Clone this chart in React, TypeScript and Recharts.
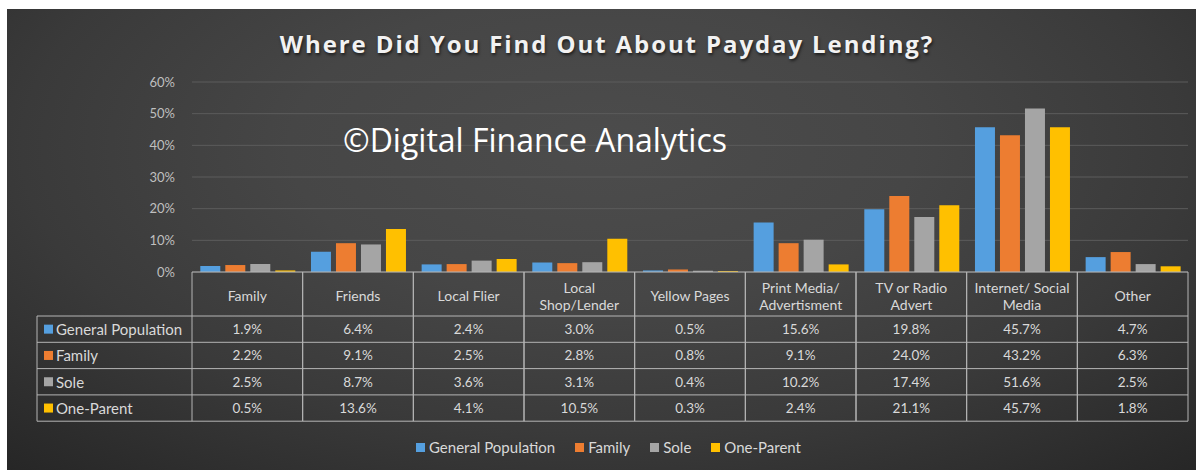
import { BarChart, Bar, XAxis, YAxis, CartesianGrid, Legend } from 'recharts';

const categories = [
  'Family',
  'Friends',
  'Local Flier',
  'Local\nShop/Lender',
  'Yellow Pages',
  'Print Media/\nAdvertisment',
  'TV or Radio\nAdvert',
  'Internet/ Social\nMedia',
  'Other',
];

const generalPopulation = [1.9, 6.4, 2.4, 3.0, 0.5, 15.6, 19.8, 45.7, 4.7];
const family = [2.2, 9.1, 2.5, 2.8, 0.8, 9.1, 24.0, 43.2, 6.3];
const sole = [2.5, 8.7, 3.6, 3.1, 0.4, 10.2, 17.4, 51.6, 2.5];
const oneParent = [0.5, 13.6, 4.1, 10.5, 0.3, 2.4, 21.1, 45.7, 1.8];

const seriesKeys = ['gp', 'family', 'sole', 'oneParent'];
const seriesNames = ['General Population', 'Family', 'Sole', 'One-Parent'];
const seriesValues = [generalPopulation, family, sole, oneParent];
const seriesColors = ['#559fdf', '#ed7d31', '#a5a5a5', '#ffc000'];

const yTicks = [0, 10, 20, 30, 40, 50, 60];

const data = categories.map((category, i) => {
  const row: Record<string, string | number> = { category };
  seriesKeys.forEach((k, s) => {
    row[k] = seriesValues[s][i];
  });
  return row;
});

const FONT = 'Lato, "Open Sans", sans-serif';
const TEXT = '#d9d9d9';
const LINE = '#b5b5b5';

const PLOT_LEFT = 185;
const PLOT_W = 996;
const BAND = PLOT_W / categories.length;
const HEADER_H = 44;
const ROW_H = 26.3;
const LABEL_LEFT = 30;

// each x tick draws one column of the data table (header + values)
function TableColumn(props: any) {
  const { x, y, payload, index } = props;
  const left = x - BAND / 2;
  const right = x + BAND / 2;
  const bottom = y + HEADER_H + ROW_H * seriesNames.length;
  const lines = String(payload.value).split('\n');
  const ci = categories.indexOf(payload.value);

  return (
    <g>
      <line x1={left} x2={left} y1={y} y2={bottom} stroke={LINE} />
      <line x1={right} x2={right} y1={y} y2={bottom} stroke={LINE} />
      {lines.map((ln, i) => (
        <text
          key={i}
          x={x}
          y={y + (lines.length === 1 ? 23 : 15 + i * 17)}
          textAnchor="middle"
          dominantBaseline="central"
          fill={TEXT}
          fontSize={14}
          fontFamily={FONT}
        >
          {ln}
        </text>
      ))}
      {seriesNames.map((_, s) => {
        const top = y + HEADER_H + ROW_H * s;
        return (
          <g key={s}>
            <line x1={left} x2={right} y1={top} y2={top} stroke={LINE} />
            <text
              x={x}
              y={top + ROW_H / 2}
              textAnchor="middle"
              dominantBaseline="central"
              fill={TEXT}
              fontSize={13.5}
              fontFamily={FONT}
            >
              {seriesValues[s][ci].toFixed(1)}%
            </text>
          </g>
        );
      })}
      <line x1={left} x2={right} y1={bottom} y2={bottom} stroke={LINE} />
      {index === 0 && (
        <g>
          <line x1={LABEL_LEFT} x2={LABEL_LEFT} y1={y + HEADER_H} y2={bottom} stroke={LINE} />
          {seriesNames.map((name, s) => {
            const top = y + HEADER_H + ROW_H * s;
            return (
              <g key={name}>
                <line x1={LABEL_LEFT} x2={left} y1={top} y2={top} stroke={LINE} />
                <rect x={LABEL_LEFT + 7} y={top + ROW_H / 2 - 4.5} width={9} height={9} fill={seriesColors[s]} />
                <text
                  x={LABEL_LEFT + 19}
                  y={top + ROW_H / 2}
                  dominantBaseline="central"
                  fill={TEXT}
                  fontSize={15}
                  fontFamily={FONT}
                >
                  {name}
                </text>
              </g>
            );
          })}
          <line x1={LABEL_LEFT} x2={left} y1={bottom} y2={bottom} stroke={LINE} />
        </g>
      )}
    </g>
  );
}

function LegendRow() {
  return (
    <div
      style={{
        height: 20,
        display: 'flex',
        justifyContent: 'center',
        alignItems: 'center',
        paddingLeft: 42,
        fontFamily: FONT,
        fontSize: 15,
        color: TEXT,
      }}
    >
      {seriesNames.map((name, s) => (
        <span key={name} style={{ display: 'flex', alignItems: 'center', marginRight: 20 }}>
          <span style={{ width: 9, height: 9, background: seriesColors[s], marginRight: 4 }} />
          {name}
        </span>
      ))}
    </div>
  );
}

export default function App() {
  return (
    <div style={{ position: 'absolute', left: 0, top: 0, width: 1196, height: 470, background: '#fff' }}>
      <div
        style={{
          position: 'absolute',
          left: 7,
          top: 9,
          width: 1189,
          height: 461,
          overflow: 'hidden',
          background:
            'radial-gradient(ellipse 75% 95% at 50% 30%, #4c4c4c 0%, #464646 35%, #3a3a3a 65%, #262626 100%)',
        }}
      >
        <div
          style={{
            position: 'absolute',
            top: 20,
            left: 0,
            width: '100%',
            paddingLeft: 11,
            boxSizing: 'border-box',
            textAlign: 'center',
            lineHeight: '30px',
            fontFamily: '"Open Sans", sans-serif',
            fontWeight: 700,
            fontSize: 24,
            letterSpacing: 1.9,
            color: '#f2f2f2',
            textShadow: '1px 2px 3px rgba(0,0,0,0.6)',
          }}
        >
          Where Did You Find Out About Payday Lending?
        </div>
        <div
          style={{
            position: 'absolute',
            top: 113,
            left: 336,
            lineHeight: '36px',
            fontFamily: '"Open Sans", sans-serif',
            fontSize: 32,
            color: '#ffffff',
            whiteSpace: 'nowrap',
            zIndex: 2,
          }}
        >
          ©Digital Finance Analytics
        </div>
        <BarChart
          width={1189}
          height={461}
          data={data}
          margin={{ top: 73, right: 8, left: 0, bottom: 13 }}
          barCategoryGap="7.5%"
          barGap={5}
        >
          <CartesianGrid vertical={false} stroke="#5c5c5c" />
          <YAxis
            domain={[0, 60]}
            ticks={yTicks}
            width={PLOT_LEFT}
            axisLine={false}
            tickLine={false}
            tickSize={6}
            tickMargin={11}
            tickFormatter={(v: number) => `${v}%`}
            tick={{ fill: '#bfbfbf', fontSize: 13, fontFamily: FONT }}
          />
          <XAxis
            dataKey="category"
            interval={0}
            height={165}
            axisLine={{ stroke: LINE }}
            tickLine={false}
            tickSize={0}
            tickMargin={0}
            tick={<TableColumn />}
          />
          <Legend verticalAlign="bottom" content={<LegendRow />} />
          {seriesKeys.map((k, s) => (
            <Bar key={k} dataKey={k} name={seriesNames[s]} fill={seriesColors[s]} isAnimationActive={false} />
          ))}
        </BarChart>
      </div>
    </div>
  );
}
